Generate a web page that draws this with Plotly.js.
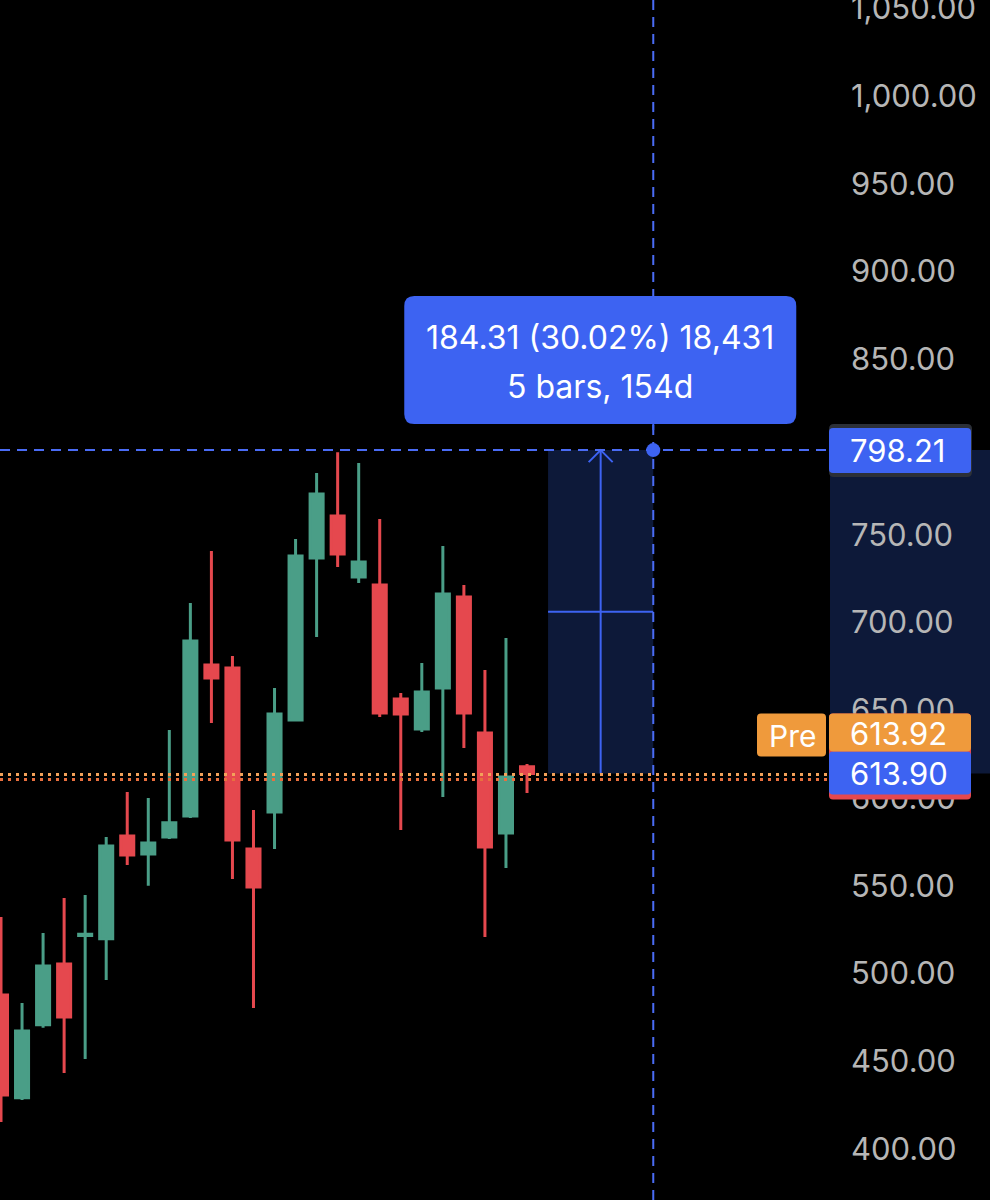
<!DOCTYPE html>
<html><head><meta charset="utf-8">
<script src="https://cdn.plot.ly/plotly-3.0.1.min.js"></script>
<style>html,body{margin:0;padding:0;background:#000;overflow:hidden}#chart{width:990px;height:1200px}</style>
</head><body><div id="chart"></div>
<script>
// ---- data ----
const barIndex = [0,1,2,3,4,5,6,7,8,9,10,11,12,13,14,15,16,17,18,19,20,21,22,23,24,25];
const openVals  = [487.7,429.1,470.7,505.4,521.6,519.7,578.3,568.1,577.8,589.7,675.8,674.1,570.9,592.0,644.4,736.8,760.7,725.9,721.4,656.4,639.3,662.7,714.5,637.0,580.1,617.8];
const highVals  = [532.2,483.2,523.1,543.0,544.7,577.8,603.4,600.0,638.7,711.1,740.7,680.9,593.2,662.7,747.6,785.2,797.0,790.9,759.0,659.8,676.9,743.6,721.4,672.9,691.2,619.4];
const lowVals   = [415.4,427.9,469.0,443.3,451.3,496.3,561.8,549.9,576.6,588.6,642.7,553.8,480.3,570.9,644.0,691.7,731.6,722.5,646.2,581.8,637.6,600.6,628.5,520.8,560.1,602.8];
const closeVals = [430.8,467.2,504.3,475.2,522.4,572.6,567.5,574.4,585.8,689.5,668.4,576.1,549.3,647.9,737.9,773.2,739.0,734.5,648.4,647.9,660.4,716.2,648.4,572.1,612.0,613.9];
const yTickVals = [400,450,500,550,600,650,700,750,800,850,900,950,1000,1050];
const yTickText = ["400.00","450.00","500.00","550.00","600.00","650.00","700.00","750.00","800.00","850.00","900.00","950.00","1,000.00","1,050.00"];
const measureFromPrice = 613.90;
const measureToPrice = 798.21;
const measureFromBar = 26;
const measureToBar = 31;
const tooltipLines = ["184.31 (30.02%) 18,431", "5 bars, 154d"];
const prePrice = 613.92;
const lastPrice = 613.90;
const preLabel = "Pre";

// ---- style ----
const GREEN = '#4a9e87', RED = '#e5484e', BLUE = '#3d63f2', NAVY = '#0d1939', ORANGE = '#ef9a3c';
const FONT = 'Inter, Roboto, "Noto Sans", sans-serif';
const midPrice = (measureFromPrice + measureToPrice) / 2;
const arrowBar = (measureFromBar + measureToBar) / 2;

function rr(x0, x1, yb, yt, r) { // rounded rect path, pixel offsets (y up)
  return `M ${x0+r},${yt} L ${x1-r},${yt} Q ${x1},${yt} ${x1},${yt-r} L ${x1},${yb+r} Q ${x1},${yb} ${x1-r},${yb} L ${x0+r},${yb} Q ${x0},${yb} ${x0},${yb+r} L ${x0},${yt-r} Q ${x0},${yt} ${x0+r},${yt} Z`;
}

const trace = {
  type: 'candlestick', x: barIndex, open: openVals, high: highVals, low: lowVals, close: closeVals,
  increasing: {line: {color: GREEN, width: 3}, fillcolor: GREEN},
  decreasing: {line: {color: RED, width: 3}, fillcolor: RED},
  whiskerwidth: 0, hoverinfo: 'skip'
};

const shapes = [
  {type:'rect', xref:'x', yref:'y', x0:measureFromBar, x1:measureToBar, y0:measureFromPrice, y1:measureToPrice, fillcolor:NAVY, line:{width:0}, layer:'below'},
  {type:'rect', xref:'paper', yref:'y', x0:1, x1:1.25, y0:measureFromPrice, y1:measureToPrice, fillcolor:NAVY, line:{width:0}, layer:'below'},
  {type:'line', xref:'x', yref:'y', x0:measureFromBar, x1:measureToBar, y0:midPrice, y1:midPrice, line:{color:BLUE, width:2}},
  {type:'line', xref:'x', yref:'y', x0:arrowBar, x1:arrowBar, y0:measureFromPrice, y1:measureToPrice, line:{color:BLUE, width:2}},
  {type:'path', xref:'x', yref:'y', xsizemode:'pixel', ysizemode:'pixel', xanchor:arrowBar, yanchor:measureToPrice, path:'M -12,-12 L 0,0 L 12,-12', line:{color:BLUE, width:2}},
  {type:'line', xref:'paper', yref:'y', x0:0, x1:1, y0:measureToPrice, y1:measureToPrice, line:{color:'#4a6cf5', width:2, dash:'10px,7px'}},
  {type:'line', xref:'x', yref:'paper', x0:measureToBar, x1:measureToBar, y0:0, y1:1, line:{color:'#4a6cf5', width:2, dash:'10px,7px'}},
  {type:'line', xref:'paper', yref:'y', ysizemode:'pixel', yanchor:prePrice, x0:0, x1:1, y0:-1, y1:-1, line:{color:'#f2a25a', width:3, dash:'3px,5px'}},
  {type:'line', xref:'paper', yref:'y', ysizemode:'pixel', yanchor:lastPrice, x0:0, x1:1, y0:-6, y1:-6, line:{color:'#e8703f', width:3, dash:'3px,5px'}},
  {type:'circle', xref:'x', yref:'y', xsizemode:'pixel', ysizemode:'pixel', xanchor:measureToBar, yanchor:measureToPrice, x0:-7, x1:7, y0:-7, y1:7, fillcolor:BLUE, line:{width:0}},
  {type:'path', xref:'x', yref:'y', xsizemode:'pixel', ysizemode:'pixel', xanchor:measureToBar, yanchor:measureToPrice, path:rr(-249,143,26,154,10), fillcolor:BLUE, line:{width:0}},
  {type:'line', xref:'x', yref:'y', xsizemode:'pixel', ysizemode:'pixel', xanchor:measureToBar, yanchor:measureToPrice, x0:0, x1:0, y0:20, y1:27, line:{color:BLUE, width:2}},
  {type:'path', xref:'paper', yref:'y', xsizemode:'pixel', ysizemode:'pixel', xanchor:1, yanchor:measureToPrice, path:rr(-1,142,-27,26,5), fillcolor:'#2c3038', line:{width:0}},
  {type:'path', xref:'paper', yref:'y', xsizemode:'pixel', ysizemode:'pixel', xanchor:1, yanchor:measureToPrice, path:rr(-1,141,-23,22,4), fillcolor:BLUE, line:{width:0}},
  {type:'path', xref:'paper', yref:'y', xsizemode:'pixel', ysizemode:'pixel', xanchor:1, yanchor:lastPrice, path:rr(-73,-4,17,60,4), fillcolor:ORANGE, line:{width:0}},
  {type:'path', xref:'paper', yref:'y', xsizemode:'pixel', ysizemode:'pixel', xanchor:1, yanchor:lastPrice, path:rr(-1,141,-26,60,4), fillcolor:RED, line:{width:0}},
  {type:'path', xref:'paper', yref:'y', xsizemode:'pixel', ysizemode:'pixel', xanchor:1, yanchor:lastPrice, path:rr(-1,141,-21,22,4), fillcolor:BLUE, line:{width:0}},
  {type:'path', xref:'paper', yref:'y', xsizemode:'pixel', ysizemode:'pixel', xanchor:1, yanchor:lastPrice, path:rr(-1,141,22,60,4), fillcolor:ORANGE, line:{width:0}}
];

const annotations = [
  {xref:'x', yref:'y', x:measureToBar, y:measureToPrice, xshift:-53, yshift:113, text:tooltipLines[0], showarrow:false, font:{family:FONT, size:32, color:'#ffffff'}},
  {xref:'x', yref:'y', x:measureToBar, y:measureToPrice, xshift:-53, yshift:64, text:tooltipLines[1], showarrow:false, font:{family:FONT, size:32, color:'#ffffff'}},
  {xref:'paper', yref:'y', x:1, y:measureToPrice, xanchor:'left', xshift:18, yshift:0, text:measureToPrice.toFixed(2), showarrow:false, font:{family:FONT, size:31, color:'#ffffff'}},
  {xref:'paper', yref:'y', x:1, y:lastPrice, xanchor:'left', xshift:18, yshift:40, text:prePrice.toFixed(2), showarrow:false, font:{family:FONT, size:31, color:'#ffffff'}},
  {xref:'paper', yref:'y', x:1, y:lastPrice, xanchor:'left', xshift:18, yshift:0, text:lastPrice.toFixed(2), showarrow:false, font:{family:FONT, size:31, color:'#ffffff'}},
  {xref:'paper', yref:'y', x:1, y:lastPrice, xanchor:'center', xshift:-38, yshift:38, text:preLabel, showarrow:false, font:{family:FONT, size:30, color:'#ffffff'}}
];

const layout = {
  width: 990, height: 1200,
  paper_bgcolor: '#000', plot_bgcolor: '#000',
  margin: {l:0, r:160, t:0, b:0},
  showlegend: false, dragmode: false,
  boxgap: 0.38, boxgroupgap: 0,
  xaxis: {range: [-0.0475, 39.4], visible: false, fixedrange: true, rangeslider: {visible: false}},
  yaxis: {side: 'right', range: [370.9, 1054.7], tickmode: 'array', tickvals: yTickVals, ticktext: yTickText,
          showgrid: false, zeroline: false, showline: false, ticks: '', ticklabelstandoff: 20, ticklabeloverflow: 'allow',
          fixedrange: true, tickfont: {family: FONT, size: 31, color: '#b6b6b6'}},
  shapes: shapes, annotations: annotations
};

Plotly.newPlot('chart', [trace], layout, {displayModeBar: false, staticPlot: true});
</script></body></html>
